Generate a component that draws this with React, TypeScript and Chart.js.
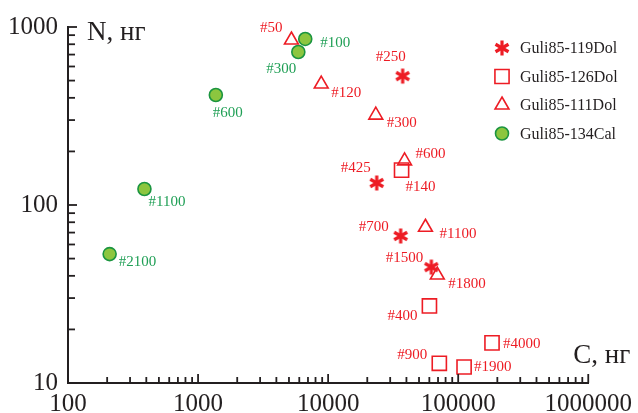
import React, { useEffect, useRef } from 'react';
import { Chart, registerables } from 'chart.js';
import { drawPoint } from 'chart.js/helpers';

Chart.register(...registerables);

// ---------- colours & fonts ----------
const RED = '#ed1c24';
const GREEN_FILL = '#8cc63f';
const GREEN_LINE = '#1b9540';
const GREEN_TEXT = '#1f9f55';
const INK = '#231f20';
const SERIF = '"Liberation Serif", "Times New Roman", serif';

// ---------- data ----------
const seriesNames = ['Guli85-119Dol', 'Guli85-126Dol', 'Guli85-111Dol', 'Guli85-134Cal'];

// Guli85-119Dol (asterisks)
const dol119C = [37400, 23650, 36100, 62200];
const dol119N = [530, 133, 67, 44.8];
const dol119Labels = ['#250', '#425', '#700', '#1500'];
const dol119LabelPos: [string, number, number][] = [['r', 3, -19], ['r', -6, -15], ['r', -12, -9], ['r', -8, -9]];

// Guli85-126Dol (open squares)
const dol126C = [36700, 60100, 182000, 71600, 111000];
const dol126N = [157, 27.1, 16.8, 12.9, 12.3];
const dol126Labels = ['#140', '#400', '#4000', '#900', '#1900'];
const dol126LabelPos: [string, number, number][] = [['l', 4, 17], ['r', -12, 10], ['l', 11, 1], ['r', -12, -8], ['l', 10, 0]];

// Guli85-111Dol (open triangles)
const dol111C = [5220, 8850, 23250, 38700, 56000, 69100];
const dol111N = [845, 478, 320, 177, 75, 40.4];
const dol111Labels = ['#50', '#120', '#300', '#600', '#1100', '#1800'];
const dol111LabelPos: [string, number, number][] = [['r', -9, -12], ['l', 10, 9], ['l', 11, 8], ['l', 11, -7], ['l', 14, 7], ['l', 11, 9]];

// Guli85-134Cal (green circles)
const cal134C = [6670, 5900, 1370, 387, 209];
const cal134N = [857, 724, 415, 123, 53];
const cal134Labels = ['#100', '#300', '#600', '#1100', '#2100'];
const cal134LabelPos: [string, number, number][] = [['l', 15, 4], ['r', -2, 17], ['l', -3, 18], ['l', 4, 13], ['l', 9, 8]];

// ---------- axes ----------
const xTickValues = [100, 1000, 10000, 100000, 1000000];
const yTickValues = [10, 100, 1000];
const minorMultipliers = [2, 3, 4, 5, 6, 7, 8, 9];
const xTitle = 'C, нг';
const yTitle = 'N, нг';

function makeStar(): HTMLCanvasElement {
  const c = document.createElement('canvas');
  c.width = 18;
  c.height = 18;
  const g = c.getContext('2d')!;
  g.strokeStyle = RED;
  g.lineWidth = 3.2;
  g.lineCap = 'butt';
  const r = 7.5;
  [90, 30, 150].forEach((deg) => {
    const a = (deg * Math.PI) / 180;
    g.beginPath();
    g.moveTo(9 - Math.cos(a) * r, 9 - Math.sin(a) * r);
    g.lineTo(9 + Math.cos(a) * r, 9 + Math.sin(a) * r);
    g.stroke();
  });
  return c;
}

export default function App() {
  const ref = useRef<HTMLCanvasElement>(null);

  useEffect(() => {
    const canvas = ref.current;
    if (!canvas) return;
    const star = makeStar();

    const series = [
      { c: dol119C, n: dol119N, labels: dol119Labels, pos: dol119LabelPos, text: RED,
        style: { pointStyle: star as any, pointRadius: 8, backgroundColor: RED, borderColor: RED, borderWidth: 0 } },
      { c: dol126C, n: dol126N, labels: dol126Labels, pos: dol126LabelPos, text: RED,
        style: { pointStyle: 'rect', pointRadius: 10, backgroundColor: 'rgba(0,0,0,0)', borderColor: RED, borderWidth: 1.6 } },
      { c: dol111C, n: dol111N, labels: dol111Labels, pos: dol111LabelPos, text: RED,
        style: { pointStyle: 'triangle', pointRadius: 8, backgroundColor: 'rgba(0,0,0,0)', borderColor: RED, borderWidth: 1.6 } },
      { c: cal134C, n: cal134N, labels: cal134Labels, pos: cal134LabelPos, text: GREEN_TEXT,
        style: { pointStyle: 'circle', pointRadius: 6.5, backgroundColor: GREEN_FILL, borderColor: GREEN_LINE, borderWidth: 1.6 } },
    ];

    const datasets = series.map((s, i) => ({
      label: seriesNames[i],
      data: s.c.map((x, j) => ({ x, y: s.n[j] })),
      showLine: false,
      pointStyle: s.style.pointStyle,
      pointRadius: s.style.pointRadius,
      pointHoverRadius: s.style.pointRadius,
      backgroundColor: s.style.backgroundColor,
      borderColor: s.style.borderColor,
      pointBackgroundColor: s.style.backgroundColor,
      pointBorderColor: s.style.borderColor,
      pointBorderWidth: s.style.borderWidth,
      clip: false as any,
    }));

    const labelPlugin = {
      id: 'pointLabels',
      afterDatasetsDraw(chart: any) {
        const ctx = chart.ctx;
        ctx.save();
        ctx.font = `15px ${SERIF}`;
        ctx.textBaseline = 'middle';
        series.forEach((s, i) => {
          const meta = chart.getDatasetMeta(i);
          ctx.fillStyle = s.text;
          meta.data.forEach((el: any, j: number) => {
            const [side, dx, dy] = s.pos[j];
            ctx.textAlign = side === 'l' ? 'left' : 'right';
            ctx.fillText(s.labels[j], el.x + dx, el.y + dy);
          });
        });
        ctx.restore();
      },
    };

    const decorPlugin = {
      id: 'decor',
      afterDraw(chart: any) {
        const { ctx, chartArea, scales } = chart;
        const xs = scales.x;
        const ys = scales.y;
        ctx.save();
        ctx.strokeStyle = INK;
        ctx.lineWidth = 1.8;
        // inward ticks on x axis
        xTickValues.forEach((d, i) => {
          const px = xs.getPixelForValue(d);
          ctx.beginPath();
          ctx.moveTo(px, chartArea.bottom);
          ctx.lineTo(px, chartArea.bottom - 9);
          ctx.stroke();
          if (i < xTickValues.length - 1) {
            minorMultipliers.forEach((m) => {
              const p = xs.getPixelForValue(d * m);
              ctx.beginPath();
              ctx.moveTo(p, chartArea.bottom);
              ctx.lineTo(p, chartArea.bottom - 6);
              ctx.stroke();
            });
          }
        });
        // inward ticks on y axis
        yTickValues.forEach((d, i) => {
          const py = ys.getPixelForValue(d);
          ctx.beginPath();
          ctx.moveTo(chartArea.left, py);
          ctx.lineTo(chartArea.left + 9, py);
          ctx.stroke();
          if (i < yTickValues.length - 1) {
            minorMultipliers.forEach((m) => {
              const p = ys.getPixelForValue(d * m);
              ctx.beginPath();
              ctx.moveTo(chartArea.left, p);
              ctx.lineTo(chartArea.left + 7, p);
              ctx.stroke();
            });
          }
        });

        // axis titles
        ctx.fillStyle = INK;
        ctx.font = `27px ${SERIF}`;
        ctx.textBaseline = 'alphabetic';
        ctx.textAlign = 'left';
        ctx.fillText(yTitle, chartArea.left + 19, chartArea.top + 13);
        ctx.fillText(xTitle, chartArea.right - 15, chartArea.bottom - 20);

        // legend
        ctx.font = `16px ${SERIF}`;
        ctx.textBaseline = 'middle';
        series.forEach((s, i) => {
          const lx = 502;
          const ly = 48 + i * 28.5;
          ctx.save();
          ctx.fillStyle = s.style.backgroundColor;
          ctx.strokeStyle = s.style.borderColor;
          ctx.lineWidth = s.style.borderWidth;
          drawPoint(ctx, {
            pointStyle: s.style.pointStyle,
            radius: s.style.pointRadius,
            rotation: 0,
            borderWidth: s.style.borderWidth,
          } as any, lx, ly);
          ctx.restore();
          ctx.fillStyle = INK;
          ctx.fillText(seriesNames[i], 520, ly + 1);
        });
        ctx.restore();
      },
    };

    const chart = new Chart(canvas, {
      type: 'scatter',
      data: { datasets: datasets as any },
      options: {
        animation: false,
        responsive: false,
        devicePixelRatio: 1,
        layout: { padding: { top: 27, right: 46, left: 0, bottom: 0 } },
        plugins: { legend: { display: false }, tooltip: { enabled: false } },
        scales: {
          x: {
            type: 'logarithmic',
            min: 100,
            max: 1000000,
            afterBuildTicks: (scale: any) => {
              scale.ticks = xTickValues.map((v) => ({ value: v, major: true }));
            },
            afterFit: (scale: any) => {
              scale.height = 30;
            },
            grid: { display: false, drawTicks: false },
            border: { display: true, color: INK, width: 2 },
            ticks: {
              autoSkip: false,
              maxRotation: 0,
              padding: 6,
              color: INK,
              font: { family: SERIF, size: 25, lineHeight: 1.2 },
              callback: (v: any) => String(v),
            },
          },
          y: {
            type: 'logarithmic',
            min: 10,
            max: 1000,
            afterBuildTicks: (scale: any) => {
              scale.ticks = yTickValues.map((v) => ({ value: v, major: true }));
            },
            afterFit: (scale: any) => {
              scale.width = 68;
            },
            grid: { display: false, drawTicks: false },
            border: { display: true, color: INK, width: 2 },
            ticks: {
              autoSkip: false,
              padding: 10,
              color: INK,
              font: { family: SERIF, size: 25, lineHeight: 1.2 },
              callback: (v: any) => String(v),
            },
          },
        },
      },
      plugins: [labelPlugin, decorPlugin],
    });

    return () => chart.destroy();
  }, []);

  return (
    <div style={{ position: 'absolute', left: 0, top: 0, width: 638, height: 413, background: '#fff' }}>
      <canvas ref={ref} width={638} height={413} style={{ display: 'block' }} />
    </div>
  );
}
